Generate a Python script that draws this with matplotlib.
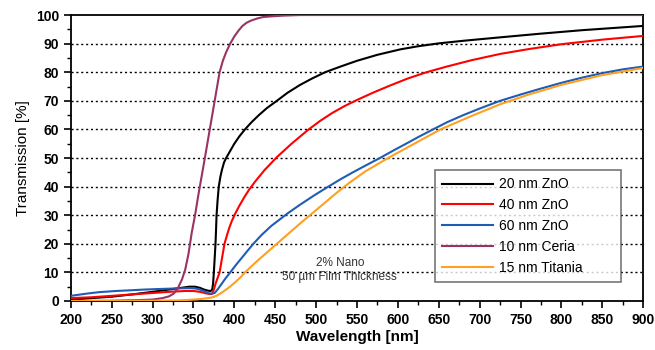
import numpy as np
import matplotlib.pyplot as plt

# wavelength [nm] / transmission [%]
zno20_x = [200, 225, 250, 275, 300, 320, 335, 345, 352, 358, 363, 368, 371, 373, 374,
           375, 376, 377, 377.7, 378.3, 379.5, 381, 383, 385, 387.5, 390, 395, 400, 406,
           413, 421, 430, 440, 452, 465, 480, 495, 511, 530, 550, 575, 603, 625, 650,
           680, 725, 775, 825, 900]
zno20_y = [0.5, 1.0, 1.5, 2.3, 3.2, 4.0, 4.6, 5.0, 5.0, 4.6, 4.0, 3.6, 3.5, 4.0, 6.0,
           10, 15, 20, 25, 30, 35, 40, 43.5, 46, 48.5, 50, 52.5, 55, 57.5,
           60, 62.5, 65, 67.5, 70, 72.8, 75.5, 77.8, 80, 82, 84, 86.1, 88.0, 89.1, 90.1,
           91.0, 92.2, 93.5, 94.7, 96.2]

zno40_x = [200, 225, 250, 275, 300, 320, 340, 350, 358, 365, 370, 373, 375, 377, 379.5,
           382, 385, 388, 391, 394, 397, 401, 406, 412, 418, 425, 437, 452, 470, 490,
           505, 520, 535, 550, 570, 590, 612, 635, 660, 690, 725, 760, 800, 850, 900]
zno40_y = [1.0, 1.3, 1.8, 2.3, 2.8, 3.2, 3.5, 3.5, 3.2, 2.7, 2.4, 2.6, 4.0, 6.0, 8.0,
           10, 15, 20, 23, 25.7, 28, 30.5, 33.2, 36.2, 38.9, 41.6, 45.8, 50.3, 55, 59.8,
           63, 65.8, 68.2, 70.3, 72.9, 75.3, 77.8, 80, 82, 84.2, 86.4, 88.1, 89.8, 91.4, 92.7]

zno60_x = [200, 220, 235, 255, 270, 290, 309, 330, 345, 352, 358, 364, 368, 372, 376,
           380, 384, 389, 395, 402, 410, 416, 423, 433, 445, 465, 480, 498, 515, 530,
           545, 560, 578, 595, 610, 626, 643, 660, 680, 700, 725, 750, 775, 800, 825,
           850, 875, 900]
zno60_y = [1.8, 2.6, 3.1, 3.5, 3.7, 4.0, 4.2, 4.4, 4.5, 4.4, 4.0, 3.3, 2.8, 2.5, 2.8,
           4.2, 5.8, 7.8, 10, 12.6, 15.4, 17.5, 19.9, 23, 26.2, 30.6, 33.6, 37, 40, 42.6,
           45, 47.3, 50, 52.7, 55, 57.5, 60, 62.5, 65, 67.3, 70, 72.2, 74.3, 76.3, 78.1,
           79.7, 81, 82.0]

ceria_x = [200, 250, 280, 300, 312, 320, 326, 331, 336, 340, 344, 348, 352, 356, 360,
           364, 367, 370, 373, 376, 379, 382, 386, 390, 395, 400, 405, 410, 415, 420,
           428, 435, 448, 460, 480, 550, 650, 750, 900]
ceria_y = [0.0, 0.1, 0.3, 0.5, 1.0, 1.6, 2.6, 4.5, 7.5, 11, 16.5, 24, 30, 37, 43.5,
           50, 55, 60, 65, 70, 75, 80, 84, 87, 90, 92.5, 94.5, 96.2, 97.3, 98,
           98.8, 99.3, 99.6, 99.8, 100, 100, 100, 100, 100]

titania_x = [200, 250, 300, 330, 345, 355, 365, 372, 378, 384, 390, 396, 402, 408, 413,
             420, 430, 440, 452, 466, 480, 495, 510, 525, 540, 560, 588, 620, 652, 690,
             725, 760, 800, 850, 900]
titania_y = [0.0, 0.0, 0.1, 0.2, 0.4, 0.6, 0.9, 1.2, 1.8, 2.8, 4.0, 5.3, 6.8, 8.4, 10,
             11.9, 14.5, 17, 20, 23.5, 27, 30.6, 34.2, 37.8, 41.2, 45.3, 50, 55, 60, 64.7,
             68.8, 72.2, 75.6, 79, 81.5]

series = [
    ('20 nm ZnO', zno20_x, zno20_y, 'black'),
    ('40 nm ZnO', zno40_x, zno40_y, '#ff0000'),
    ('60 nm ZnO', zno60_x, zno60_y, '#1f5db5'),
    ('10 nm Ceria', ceria_x, ceria_y, '#993366'),
    ('15 nm Titania', titania_x, titania_y, '#ffa020'),
]

plt.rcParams['font.family'] = ['Liberation Sans', 'DejaVu Sans']

fig = plt.figure(figsize=(6.55, 3.5), dpi=100)
ax = fig.add_axes([0.108, 0.14, 0.874, 0.817])

for y in range(10, 100, 10):
    ax.axhline(y, color='black', lw=1.0, ls=(0, (1.5, 2)), zorder=1)

for label, xs, ys, c in series:
    ax.plot(xs, ys, color=c, lw=1.5, label=label, zorder=3)

ax.set_xlim(200, 900)
ax.set_ylim(0, 100)
ax.set_xticks(np.arange(200, 901, 50))
ax.set_xticks(np.arange(225, 900, 50), minor=True)
ax.set_yticks(np.arange(0, 101, 10))
ax.set_yticks(np.arange(5, 100, 10), minor=True)
ax.tick_params(which='major', direction='out', length=5, width=1.2, labelsize=10)
ax.tick_params(which='minor', direction='out', length=3, width=1.0)
for lab in ax.get_xticklabels() + ax.get_yticklabels():
    lab.set_fontweight('bold')
for s in ax.spines.values():
    s.set_linewidth(1.3)

ax.set_xlabel('Wavelength [nm]', fontsize=11, fontweight='bold', labelpad=2)
ax.set_ylabel('Transmission [%]', fontsize=11, labelpad=4)

ax.text(529, 13.3, '2% Nano', ha='center', va='center', fontsize=8.5, color='#333333')
ax.text(529, 8.4, '50 µm Film Thickness', ha='center', va='center', fontsize=8.5,
        color='#333333')

leg = ax.legend(loc='lower left', bbox_to_anchor=(0.636, 0.066, 0.326, 0.4),
                mode='expand', fontsize=10, frameon=True, fancybox=False,
                handlelength=3.7, handletextpad=0.4, labelspacing=0.5,
                borderpad=0.5, borderaxespad=0)
leg.get_frame().set_edgecolor('#555555')
leg.get_frame().set_linewidth(1.2)
leg.set_zorder(5)

plt.savefig('out.png', dpi=100)
